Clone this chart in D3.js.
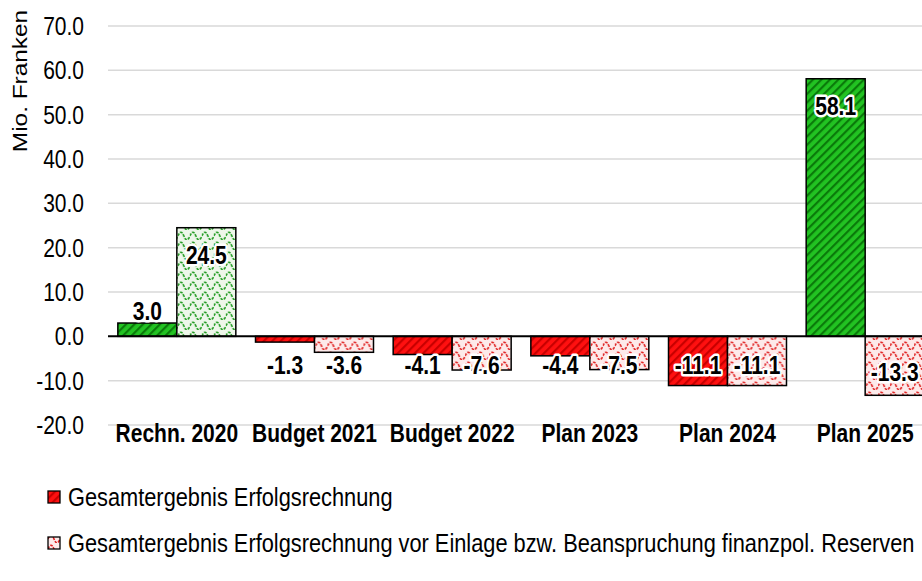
<!DOCTYPE html>
<html>
<head>
<meta charset="utf-8">
<script src="https://cdn.jsdelivr.net/npm/d3@7"></script>
<style>
  body { margin: 0; background: #fff; }
  svg text { font-family: "Liberation Sans", Arial, sans-serif; }
</style>
</head>
<body>
<svg width="922" height="581"></svg>
<script>
var categories = ["Rechn. 2020", "Budget 2021", "Budget 2022", "Plan 2023", "Plan 2024", "Plan 2025"];
var seriesNames = ["Gesamtergebnis Erfolgsrechnung",
  "Gesamtergebnis Erfolgsrechnung vor Einlage bzw. Beanspruchung finanzpol. Reserven"];
var gesamt = [3.0, -1.3, -4.1, -4.4, -11.1, 58.1];
var vorEinlage = [24.5, -3.6, -7.6, -7.5, -11.1, -13.3];
var yTicks = [-20, -10, 0, 10, 20, 30, 40, 50, 60, 70];

var svg = d3.select("svg");
var fmt = function(v) { return d3.format(".1f")(v).replace("\u2212", "-"); };
var stretch = 1.22; // text in the reference is drawn taller than wide

var y = d3.scaleLinear()
    .domain([-20, 70])
    .range([425, 26]);

var x = d3.scaleBand()
    .domain(categories)
    .range([108, 934])
    .paddingInner(0.143)
    .paddingOuter(0.0715);

var xs = d3.scaleBand()
    .domain([0, 1])
    .range([0, x.bandwidth()]);

// patterns
var defs = svg.append("defs");

function stripes(id, bg, fg) {
  var p = defs.append("pattern")
      .attr("id", id)
      .attr("patternUnits", "userSpaceOnUse")
      .attr("width", 6).attr("height", 6)
      .attr("patternTransform", "rotate(45)");
  p.append("rect").attr("width", 6).attr("height", 6).attr("fill", bg);
  p.append("rect").attr("width", 2.2).attr("height", 6).attr("fill", fg);
}
function waves(id, bg, fg) {
  var p = defs.append("pattern")
      .attr("id", id)
      .attr("patternUnits", "userSpaceOnUse")
      .attr("width", 12).attr("height", 10);
  p.append("rect").attr("width", 12).attr("height", 10).attr("fill", bg);
  p.append("path")
      .attr("d", "M0,6 C2,1 4,1 6,6 C8,11 10,11 12,6")
      .attr("fill", "none")
      .attr("stroke", fg)
      .attr("stroke-width", 1.6)
      .attr("stroke-dasharray", "2.8,1.2");
}
stripes("gPos", "#22c322", "#0a7a0a");
stripes("gNeg", "#ff1010", "#c80000");
waves("wPos", "#eef7ea", "#1e9a1e");
waves("wNeg", "#fdeaea", "#e02020");

// grid
svg.append("g")
  .selectAll("line")
  .data(yTicks.filter(function(d) { return d !== 0; }))
  .enter().append("line")
    .attr("x1", 108).attr("x2", 922)
    .attr("y1", function(d) { return y(d); })
    .attr("y2", function(d) { return y(d); })
    .attr("stroke", "#d9d9d9")
    .attr("stroke-width", 1.5);

// y tick labels
svg.append("g")
  .selectAll("text")
  .data(yTicks)
  .enter().append("text")
    .attr("transform", function(d) { return "translate(84," + y(d) + ") scale(1," + stretch + ")"; })
    .attr("dy", "0.35em")
    .attr("text-anchor", "end")
    .attr("font-size", 21)
    .attr("fill", "#000")
    .text(fmt);

svg.append("text")
    .attr("transform", "translate(27,81) rotate(-90) scale(1.22,1)")
    .attr("text-anchor", "middle")
    .attr("font-size", 20)
    .text("Mio. Franken");

// bars
var rows = categories.map(function(c, i) {
  return [{cat: c, s: 0, v: gesamt[i]}, {cat: c, s: 1, v: vorEinlage[i]}];
});

var groups = svg.append("g")
  .selectAll("g")
  .data(rows)
  .enter().append("g")
    .attr("transform", function(d) { return "translate(" + x(d[0].cat) + ",0)"; });

groups.selectAll("rect")
  .data(function(d) { return d; })
  .enter().append("rect")
    .attr("x", function(d) { return xs(d.s); })
    .attr("width", xs.bandwidth())
    .attr("y", function(d) { return y(Math.max(0, d.v)); })
    .attr("height", function(d) { return Math.abs(y(d.v) - y(0)); })
    .attr("fill", function(d) {
      if (d.s === 0) return d.v >= 0 ? "url(#gPos)" : "url(#gNeg)";
      return d.v >= 0 ? "url(#wPos)" : "url(#wNeg)";
    })
    .attr("stroke", "#000")
    .attr("stroke-width", 1.5);

// zero line
svg.append("line")
    .attr("x1", 108).attr("x2", 922)
    .attr("y1", y(0)).attr("y2", y(0))
    .attr("stroke", "#000")
    .attr("stroke-width", 2);

// value labels
function labelY(d) {
  if (d.v >= 0) {
    var h = y(0) - y(d.v);
    return h > 30 ? y(d.v) + 27 : y(d.v) - 12;
  }
  return Math.max(y(0) + 29, y(d.v) - 23);
}

groups.selectAll("text")
  .data(function(d) { return d; })
  .enter().append("text")
    .attr("transform", function(d) {
      return "translate(" + (xs(d.s) + xs.bandwidth() / 2) + "," + labelY(d) + ") scale(1," + stretch + ")";
    })
    .attr("dy", "0.35em")
    .attr("text-anchor", "middle")
    .attr("font-size", 21)
    .attr("font-weight", "bold")
    .attr("fill", "#000")
    .attr("stroke", "#fff")
    .attr("stroke-width", 4)
    .attr("stroke-linejoin", "round")
    .attr("paint-order", "stroke")
    .text(function(d) { return fmt(d.v); });

// category labels
svg.append("g")
  .selectAll("text")
  .data(categories)
  .enter().append("text")
    .attr("transform", function(d) {
      return "translate(" + (x(d) + x.bandwidth() / 2) + ",433) scale(1," + stretch + ")";
    })
    .attr("dy", "0.35em")
    .attr("text-anchor", "middle")
    .attr("font-size", 21)
    .attr("font-weight", "bold")
    .text(function(d) { return d; });

// legend
var legend = svg.append("g")
  .selectAll("g")
  .data(seriesNames)
  .enter().append("g")
    .attr("transform", function(d, i) { return "translate(48," + (497 + i * 46) + ")"; });

legend.append("rect")
    .attr("x", 0).attr("y", -6)
    .attr("width", 12).attr("height", 12)
    .attr("fill", function(d, i) { return i === 0 ? "url(#gNeg)" : "url(#wNeg)"; })
    .attr("stroke", "#000")
    .attr("stroke-width", 1.3);

legend.append("text")
    .attr("transform", "translate(20,0) scale(1," + stretch + ")")
    .attr("dy", "0.35em")
    .attr("font-size", 21.8)
    .text(function(d) { return d; });
</script>
</body>
</html>
